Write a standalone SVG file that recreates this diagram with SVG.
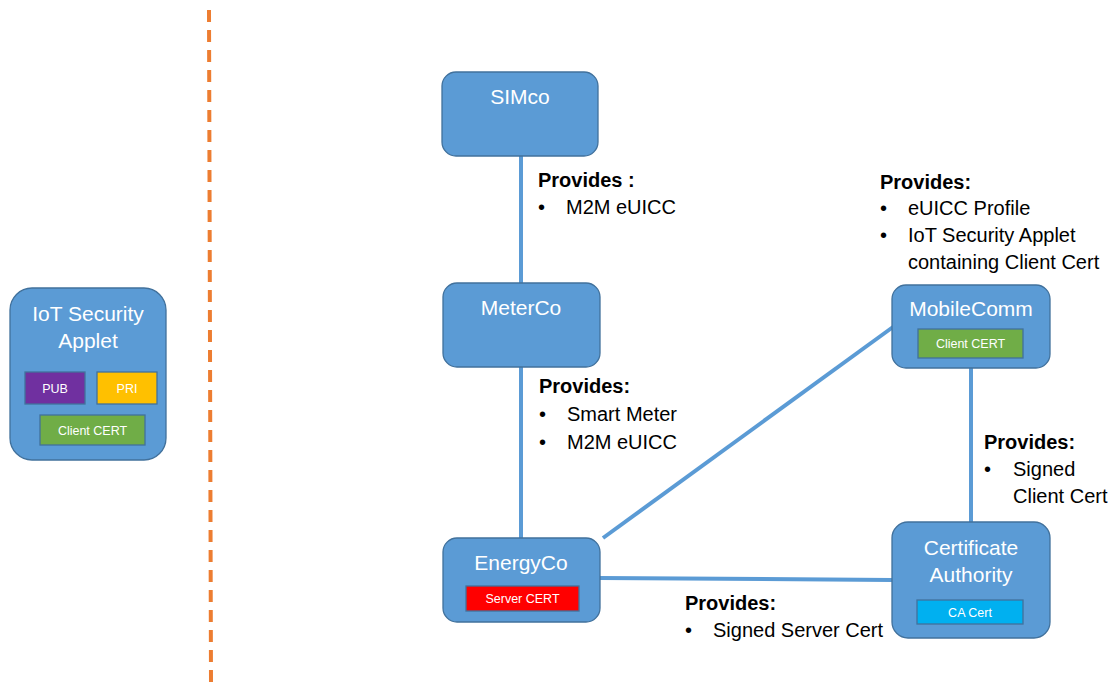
<svg xmlns="http://www.w3.org/2000/svg" width="1117" height="684" viewBox="0 0 1117 684">
<style>
.node{fill:#5B9BD5;stroke:#41719C;stroke-width:1.3}
.title{font-family:"Liberation Sans",Arial,sans-serif;font-size:21px;fill:#fff;text-anchor:middle}
.small{font-family:"Liberation Sans",Arial,sans-serif;font-size:12.5px;fill:#fff;text-anchor:middle}
.badge{stroke:#41719C;stroke-width:1.3}
.conn{stroke:#5B9BD5;stroke-width:4;fill:none}
.lbl{font-family:"Liberation Sans",Arial,sans-serif;font-size:20px;fill:#000}
.b{font-weight:bold}
</style>
<rect width="1117" height="684" fill="#fff"/>
<line x1="209" y1="10" x2="211" y2="684" stroke="#ED7D31" stroke-width="4" stroke-dasharray="12 8"/>
<g id="connectors">
<line class="conn" x1="521" y1="156" x2="521" y2="283"/>
<line class="conn" x1="521" y1="367" x2="521" y2="538"/>
<line class="conn" x1="603" y1="538" x2="893" y2="327"/>
<line class="conn" x1="600" y1="578" x2="892" y2="580"/>
<line class="conn" x1="971" y1="368" x2="971" y2="522"/>
</g>
<g id="applet">
<rect class="node" x="10" y="288" width="156" height="172" rx="22"/>
<text class="title" x="88" y="321">IoT Security</text>
<text class="title" x="88" y="348">Applet</text>
<rect class="badge" x="25" y="372" width="60" height="32" fill="#7030A0"/>
<text class="small" x="55" y="393">PUB</text>
<rect class="badge" x="97" y="372" width="60" height="32" fill="#FFC000"/>
<text class="small" x="127" y="393">PRI</text>
<rect class="badge" x="40" y="415" width="105" height="30" fill="#70AD47"/>
<text class="small" x="92.5" y="435">Client CERT</text>
</g>
<g id="simco">
<rect class="node" x="442" y="72" width="156" height="84" rx="14"/>
<text class="title" x="520" y="104">SIMco</text>
</g>
<g id="meterco">
<rect class="node" x="443" y="283" width="157" height="84" rx="14"/>
<text class="title" x="521" y="315">MeterCo</text>
</g>
<g id="energyco">
<rect class="node" x="443" y="538" width="157" height="84" rx="14"/>
<text class="title" x="521" y="570">EnergyCo</text>
<rect class="badge" x="466" y="586" width="113" height="25" fill="#FF0000"/>
<text class="small" x="522.5" y="603">Server CERT</text>
</g>
<g id="mobilecomm">
<rect class="node" x="892" y="285" width="158" height="83" rx="14"/>
<text class="title" x="971" y="316">MobileComm</text>
<rect class="badge" x="918" y="329" width="105" height="29" fill="#70AD47"/>
<text class="small" x="970.5" y="348">Client CERT</text>
</g>
<g id="ca">
<rect class="node" x="892" y="522" width="158" height="116" rx="16"/>
<text class="title" x="971" y="555">Certificate</text>
<text class="title" x="971" y="582">Authority</text>
<rect class="badge" x="917" y="600" width="106" height="24" fill="#00B0F0"/>
<text class="small" x="970" y="617">CA Cert</text>
</g>
<g id="labels">
<text class="lbl b" x="538" y="187">Provides :</text>
<text class="lbl" x="538" y="214">•</text><text class="lbl" x="566" y="214">M2M eUICC</text>
<text class="lbl b" x="539" y="393">Provides:</text>
<text class="lbl" x="539" y="421">•</text><text class="lbl" x="567" y="421">Smart Meter</text>
<text class="lbl" x="539" y="449">•</text><text class="lbl" x="567" y="449">M2M eUICC</text>
<text class="lbl b" x="880" y="189">Provides:</text>
<text class="lbl" x="880" y="215">•</text><text class="lbl" x="908" y="215">eUICC Profile</text>
<text class="lbl" x="880" y="242">•</text><text class="lbl" x="908" y="242">IoT Security Applet</text>
<text class="lbl" x="908" y="269">containing Client Cert</text>
<text class="lbl b" x="984" y="449">Provides:</text>
<text class="lbl" x="984" y="476">•</text><text class="lbl" x="1013" y="476">Signed</text>
<text class="lbl" x="1013" y="503">Client Cert</text>
<text class="lbl b" x="685" y="610">Provides:</text>
<text class="lbl" x="685" y="637">•</text><text class="lbl" x="713" y="637">Signed Server Cert</text>
</g>
</svg>
